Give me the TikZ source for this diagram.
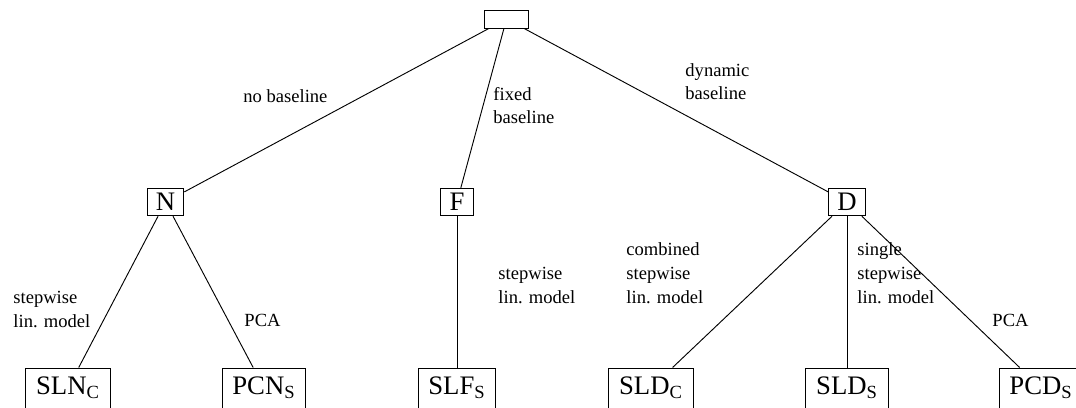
\documentclass[tikz,border=0pt]{standalone}
\usepackage{fontspec}
\setmainfont{Liberation Serif}
\begin{document}
\begin{tikzpicture}[x=0.539pt, y=-0.539pt, line width=0.5pt,
	root/.style = {draw, minimum width=24pt, minimum height=9.7pt, inner sep=0pt},
	main/.style = {draw, font=\Large, inner xsep=4.7pt, inner ysep=2.7pt},
	leaf/.style = {draw, font=\Large, inner xsep=5.5pt, minimum height=21.6pt},
	lbl/.style = {anchor=base west, align=left, inner sep=0pt, font={\fontsize{10}{12.9}\selectfont}}]
	\clip (0,0) rectangle (1076,408);

	\node[root] (r) at (506.5,19) {};

	\node[main] (n) at (165.5,202) {N};
	\node[main] (f) at (457,202) {F};
	\node[main] (d) at (847,202) {D};

	\node[leaf] (sln) at (68,388) {SLN\textsubscript{C}};
	\node[leaf] (pcn) at (264,388) {PCN\textsubscript{S}};
	\node[leaf] (slf) at (457,388) {SLF\textsubscript{S}};
	\node[leaf] (sldc) at (651,388) {SLD\textsubscript{C}};
	\node[leaf] (slds) at (847,388) {SLD\textsubscript{S}};
	\node[leaf] (pcd) at (1041,388) {PCD\textsubscript{S}};

	\draw (r) -- (n);
	\draw (r) -- (f);
	\draw (r) -- (d);
	\draw (n) -- (sln);
	\draw (n) -- (pcn);
	\draw (f) -- (slf);
	\draw (d) -- (sldc);
	\draw (d) -- (slds);
	\draw (d) -- (pcd);

	% labels sit on the baseline of their last line
	\node[lbl] (l1) at (243,103) {no baseline};
	\node[lbl] (l2) at (493,124) {fixed\\baseline};
	\node[lbl] (l3) at (685,100) {dynamic\\baseline};
	\node[lbl] (l4) at (13,327) {stepwise\\lin. model};
	\node[lbl] (l5) at (244,326) {PCA};
	\node[lbl] (l6) at (498,303) {stepwise\\lin. model};
	\node[lbl] (l7) at (626,303) {combined\\stepwise\\lin. model};
	\node[lbl] (l8) at (857,303) {single\\stepwise\\lin. model};
	\node[lbl] (l9) at (992,326) {PCA};
\end{tikzpicture}
\end{document}
